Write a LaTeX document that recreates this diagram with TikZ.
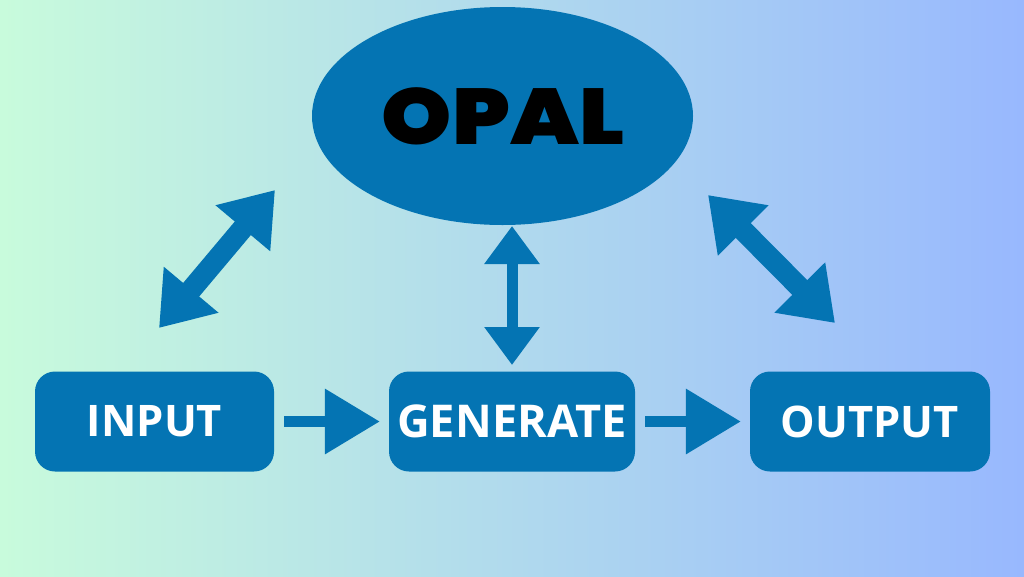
\documentclass[tikz,border=0pt]{standalone}
\usepackage{fontspec}
\usetikzlibrary{arrows.meta,shapes.geometric}
\setmainfont{Open Sans}
\newfontfamily\opalfont{Poppins Black}[FakeStretch=1.13]
\definecolor{mainblue}{HTML}{0474B3}
\definecolor{bgleft}{HTML}{C8FBDC}
\definecolor{bgright}{HTML}{98B8FE}
\tikzset{
  x=1pt,y=-1pt,
  box/.style={draw=none,fill=mainblue,rounded corners=20pt,minimum height=100pt,inner sep=0pt,text=white,
    font=\fontsize{43.5}{43.5}\selectfont\bfseries},
  flow/.style={draw=mainblue,line width=10.5pt,-{Triangle[length=55pt,width=63pt]}},
  vert/.style={draw=mainblue,line width=11pt,{Triangle[length=38pt,width=53pt]}-{Triangle[length=38pt,width=53pt]}},
  diag/.style={draw=mainblue,line width=21pt,{Triangle[length=50pt,width=68pt]}-{Triangle[length=50pt,width=68pt]}},
}
\begin{document}
\begin{tikzpicture}
\useasboundingbox (0,0) rectangle (1024,576);
\shade[left color=bgleft,right color=bgright] (0,0) rectangle (1024,576);
\node[ellipse,fill=mainblue,minimum width=381pt,minimum height=218pt,inner sep=0pt,text=black] (opal) at (502.5,116)
  {\kern1pt\opalfont\fontsize{79}{79}\selectfont OPAL};
\node[box,minimum width=239pt] (input) at (154.5,421.5) {INPUT};
\node[box,minimum width=246pt,font=\fontsize{45.2}{45.2}\selectfont\bfseries] (generate) at (512,421.5) {GENERATE};
\node[box,minimum width=240pt] (output) at (870,421.5) {OUTPUT};
\coordinate (vt) at (512,226);
\coordinate (vb) at (512,365);
\coordinate (lt) at (275,190);
\coordinate (lb) at (159,328);
\coordinate (rt) at (708,195);
\coordinate (rb) at (835,323);
\draw[flow,shorten <=10pt,shorten >=9pt] (input.east) -- (generate.west);
\draw[flow,shorten <=10pt,shorten >=9pt] (generate.east) -- (output.west);
\draw[vert] (vt) -- (vb);
\draw[diag] (lt) -- (lb);
\draw[diag] (rt) -- (rb);
\end{tikzpicture}
\end{document}
